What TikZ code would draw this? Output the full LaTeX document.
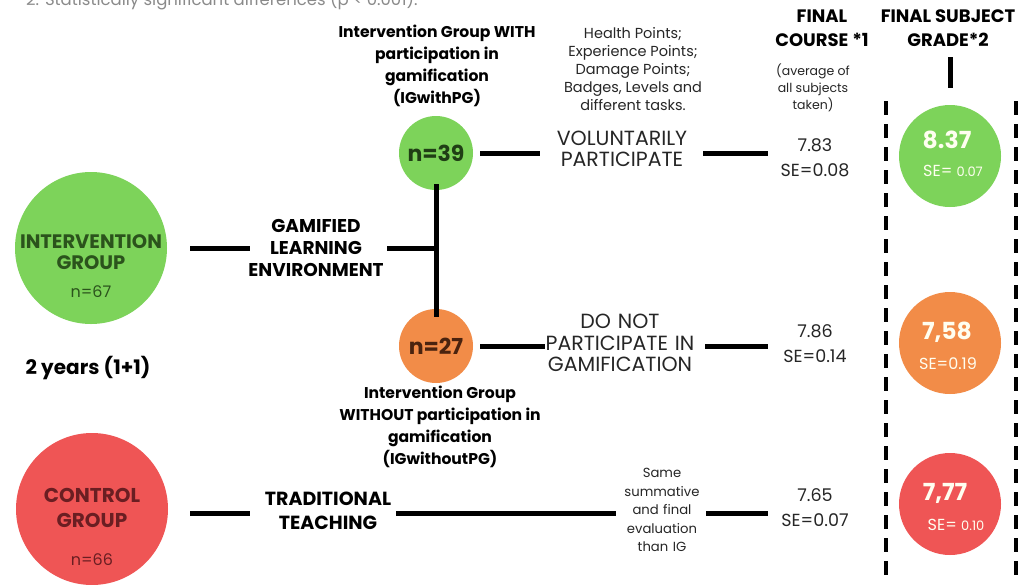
\documentclass[tikz,border=0pt]{standalone}
\usepackage{fontspec}
\setmainfont{Poppins}
\definecolor{cgreen}{HTML}{7DD35A}
\definecolor{corange}{HTML}{F28C48}
\definecolor{cred}{HTML}{EF5555}
\definecolor{tgreen}{HTML}{2B531C}
\definecolor{tbrown}{HTML}{4A230F}
\definecolor{tred}{HTML}{6A1E22}
\definecolor{txt}{HTML}{262626}
\definecolor{gtxt}{HTML}{8A8A8A}
\newcommand{\smallnum}[1]{{\fontsize{13}{14}\selectfont #1}}
\begin{document}
\begin{tikzpicture}[x=1pt,y=-1pt,
  conn/.style={line width=5pt, black},
  dashline/.style={line width=3.5pt, black, dash pattern=on 14pt off 9pt},
  bigc/.style={circle, minimum size=152pt, inner sep=0pt},
  midc/.style={circle, minimum size=74pt, inner sep=0pt},
  resc/.style={circle, minimum size=102pt, inner sep=0pt},
  hdr/.style={align=center, inner sep=0pt, text=black, font=\fontsize{18}{24.5}\selectfont\bfseries},
  blab/.style={align=center, inner sep=0pt, text=black, font=\fontsize{15.6}{22}\selectfont\bfseries},
  rlab/.style={align=center, inner sep=0pt, text=txt, font=\fontsize{20.5}{21.5}\selectfont},
  slab/.style={align=center, inner sep=0pt, text=txt, font=\fontsize{14.5}{18}\selectfont},
  val/.style={align=center, inner sep=0pt, text=txt, text width=70pt, font=\fontsize{17.5}{25}\selectfont},
  bigv/.style={text=white!94!yellow, font=\fontsize{23.5}{26}\selectfont\bfseries},
  sev/.style={text=white!94!yellow, font=\fontsize{16}{18}\selectfont}
]
\useasboundingbox (0,0) rectangle (1027,584);
\fill[white] (0,0) rectangle (1027,584);

% clipped note at the top
\node[anchor=base west, inner sep=0pt, text=gtxt, font=\fontsize{16.5}{18}\selectfont] (note) at (26,5) {2. Statistically significant differences (p < 0.001).};

% left group circles
\node[bigc, fill=cgreen] (ig) at (91,248) {};
\node[align=center, text=tgreen, font=\fontsize{19.5}{21}\selectfont\bfseries] (igt) at (91,252) {INTERVENTION\\GROUP};
\node[text=tgreen, font=\fontsize{16}{18}\selectfont] (ign) at (91,292) {n=67};

\node[bigc, fill=cred] (cg) at (92,509) {};
\node[align=center, text=tred, font=\fontsize{20}{25}\selectfont\bfseries] (cgt) at (92,508) {CONTROL\\GROUP};
\node[text=tred, font=\fontsize{16}{18}\selectfont] (cgn) at (92,560) {n=66};

\node[text=black, font=\fontsize{20}{22}\selectfont\bfseries] (yrs) at (88,368) {2 years (1+1)};

% middle labels
\node[blab, text width=136pt, font=\fontsize{18.5}{22}\selectfont\bfseries] (gle) at (316,248) {GAMIFIED\\LEARNING\\ENVIRONMENT};
\node[blab, text width=130pt, font=\fontsize{19}{23.5}\selectfont\bfseries] (tt) at (328,511) {TRADITIONAL\\TEACHING};

% sub-group circles
\node[midc, fill=cgreen] (g39) at (436,153) {};
\node[text=tgreen!75!black, font=\fontsize{22}{24}\selectfont\bfseries] (t39) at (g39) {n=39};
\node[midc, fill=corange] (g27) at (436,346) {};
\node[text=tbrown, font=\fontsize{22}{24}\selectfont\bfseries] (t27) at (g27) {n=27};

\coordinate (j) at (436,248);

\node[blab] (withpg) at (437,66) {Intervention Group WITH\\participation in\\gamification\\(IGwithPG)};
\node[blab] (withoutpg) at (440,427) {Intervention Group\\WITHOUT participation in\\gamification\\(IGwithoutPG)};

\node[slab] (pts) at (633,69) {Health Points;\\Experience Points;\\Damage Points;\\Badges, Levels and\\different tasks.};

\node[rlab, text width=150pt] (vol) at (622,149) {VOLUNTARILY\\PARTICIPATE};
\node[rlab, text width=150pt] (dnp) at (620,343) {DO NOT\\PARTICIPATE IN\\GAMIFICATION};
\node[slab, text width=80pt, font=\fontsize{13.2}{18.5}\selectfont] (same) at (662,510) {Same\\summative\\and final\\evaluation\\than IG};

% final course column
\node[hdr] (fc) at (822,28) {FINAL\\COURSE *1};
\node[slab, font=\fontsize{12.5}{17}\selectfont] (avg) at (813,88) {(average of\\all subjects\\taken)};
\node[val] (v1) at (815,158) {7.83\\SE=0.08};
\node[val] (v2) at (815,344) {7.86\\SE=0.14};
\node[val] (v3) at (815,508) {7.65\\SE=0.07};

% final subject grade column
\node[hdr] (fs) at (948,28) {FINAL SUBJECT\\GRADE*2};
\coordinate (barT) at (950,57);
\coordinate (barB) at (950,88);
\draw[conn] (barT) -- (barB);

\coordinate (dl1) at (886,101);
\coordinate (dl2) at (886,584);
\coordinate (dr1) at (1016,101);
\coordinate (dr2) at (1016,584);
\draw[dashline] (dl1) -- (dl2);
\draw[dashline] (dr1) -- (dr2);

\node[resc, fill=cgreen] (r1) at (950,156) {};
\node[bigv] (r1v) at (947,140) {8.37};
\node[sev] (r1s) at (953,171) {SE= \smallnum{0.07}};
\node[resc, fill=corange] (r2) at (950,343) {};
\node[bigv] (r2v) at (947,332) {7,58};
\node[sev] (r2s) at (948,364) {SE=0.19};
\node[resc, fill=cred] (r3) at (950,504) {};
\node[bigv] (r3v) at (945,493) {7,77};
\node[sev] (r3s) at (956,525) {SE= \smallnum{0.10}};

% connectors
\draw[conn] ([xshift=23pt]ig.east) -- ([xshift=2pt]ig.east -| gle.west);
\draw[conn] ([xshift=3pt]gle.east |- j) -- (j);
\draw[conn] ([yshift=6pt]g39.south) -- ([yshift=-8pt]g27.north);

\draw[conn] ([xshift=7pt]g39.east) -- ([xshift=-7pt]g39.east -| vol.west);
\draw[conn] ([xshift=6pt]g39.east -| vol.east) -- ([xshift=-12pt]g39.east -| v1.west);

\draw[conn] ([xshift=7pt]g27.east) -- ([xshift=0pt]g27.east -| dnp.west);
\draw[conn] ([xshift=10pt]g27.east -| dnp.east) -- ([xshift=-12pt]g27.east -| v2.west);

\coordinate (row3) at (0,513);
\draw[conn] ([xshift=22pt]cg.east |- row3) -- ([xshift=-13pt]tt.west |- row3);
\draw[conn] ([xshift=3pt]tt.east |- row3) -- ([xshift=-6pt]same.west |- row3);
\draw[conn] ([xshift=4pt]same.east |- row3) -- ([xshift=-12pt]v3.west |- row3);
\end{tikzpicture}
\end{document}
